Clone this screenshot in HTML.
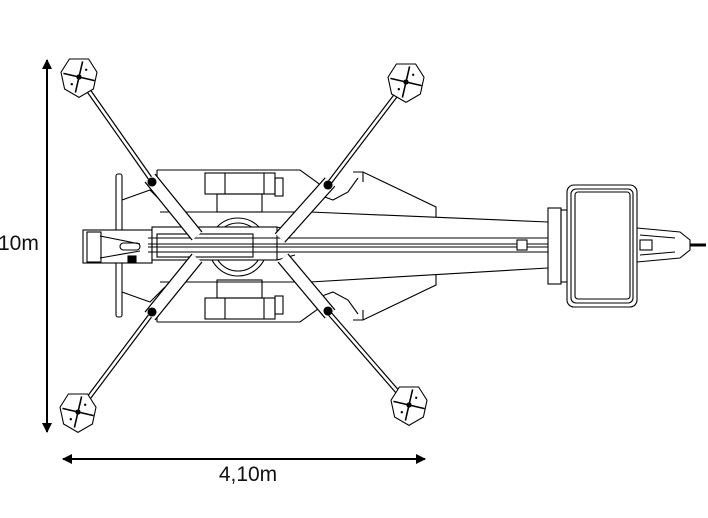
<!DOCTYPE html>
<html><head><meta charset="utf-8"><style>
html,body{margin:0;padding:0;background:#fff;width:708px;height:518px;overflow:hidden}
svg{display:block}
text{font-family:"Liberation Sans",Arial,sans-serif;fill:#111}
</style></head><body>
<svg width="708" height="518" viewBox="0 0 708 518" xmlns="http://www.w3.org/2000/svg">
<defs>
<marker id="ah" markerWidth="10" markerHeight="10" refX="9" refY="5" orient="auto" markerUnits="userSpaceOnUse">
<path d="M0,0 L10,5 L0,10 z" fill="#000"/></marker>
<g id="pad">
<polygon points="-8,-15 8,-15 15,-4 12,10 0,17 -12,10 -15,-4" fill="#fff" stroke="#000" stroke-width="0.9"/>
<line x1="-13" y1="-3" x2="13" y2="3" stroke="#000" stroke-width="1.3"/>
<line x1="3" y1="-13" x2="-3" y2="13" stroke="#000" stroke-width="1.3"/>
<circle cx="0" cy="0" r="2.2" fill="#000"/>
<circle cx="6" cy="-6" r="1" fill="#000"/><circle cx="-6" cy="6" r="1" fill="#000"/>
</g>
</defs>

<line x1="47" y1="420" x2="47" y2="60" stroke="#000" stroke-width="2" marker-end="url(#ah)"/>
<line x1="47" y1="70" x2="47" y2="432" stroke="#000" stroke-width="2" marker-end="url(#ah)"/>
<line x1="75" y1="459" x2="425" y2="459" stroke="#000" stroke-width="2" marker-end="url(#ah)"/>
<line x1="415" y1="459" x2="63" y2="459" stroke="#000" stroke-width="2" marker-end="url(#ah)"/>
<text x="248" y="481" font-size="21" text-anchor="middle">4,10m</text>
<text x="-2" y="250" font-size="21">10m</text>

<g fill="none" stroke="#000" stroke-width="1.1">
<rect x="116" y="174" width="6" height="143" rx="2" fill="#fff"/>
<path d="M157,170 L300,170 L318,183 L325,190"/>
<path d="M157,322 L300,322 L318,309 L325,302"/>
<path d="M157,170 L157,176 M157,322 L157,316"/>
<path d="M122,200 L150,190 L165,205 M122,292 L150,302 L165,287"/>
<path d="M160,212 L310,212 L548,222 M160,282 L310,282 L548,268"/>
<path d="M353,172 L363,172 L436,207 L436,217 M353,320 L363,320 L436,285 L436,275"/>
<path d="M363,172 L363,182 M363,320 L363,310"/>
<path d="M322,196 L333,200 L348,192 L358,178 M322,296 L333,292 L348,300 L358,314"/>
<rect x="205" y="173" width="70" height="21" fill="#fff"/>
<line x1="225" y1="173" x2="225" y2="194"/><line x1="264" y1="173" x2="264" y2="194"/>
<rect x="217" y="194" width="45" height="18"/>
<rect x="275" y="178" width="8" height="18"/>
<rect x="205" y="298" width="70" height="21" fill="#fff"/>
<line x1="225" y1="298" x2="225" y2="319"/><line x1="264" y1="298" x2="264" y2="319"/>
<rect x="217" y="280" width="45" height="18"/>
<rect x="275" y="296" width="8" height="18"/>
<circle cx="238" cy="247" r="29"/>
<circle cx="238" cy="247" r="24"/>
<rect x="83" y="230" width="69" height="33" fill="#fff"/>
<rect x="87" y="232" width="14" height="30"/>
<path d="M100,236 L140,244 M100,258 L140,251"/>
<rect x="120" y="243" width="20" height="7" rx="3.5"/>
<rect x="128" y="256" width="8" height="6" fill="#000"/>
<rect x="152" y="227" width="125" height="33" fill="#fff"/>
<rect x="157" y="234" width="96" height="23"/>
<path d="M148,238 L548,238 M148,252 L548,252 M148,244 L548,244 M148,247 L548,247"/>
<path d="M277,227 L295,232 M277,260 L295,255"/>
<rect x="517" y="240" width="10" height="10" fill="#fff"/>
<g stroke-linecap="butt">
<path d="M79,77 L150,178" stroke-width="5"/><path d="M79,77 L150,178" stroke="#fff" stroke-width="2.6"/>
<path d="M150,178 L197,236" stroke-width="14"/><path d="M150,178 L197,236" stroke="#fff" stroke-width="11.5"/>
<path d="M406,82 L330,182" stroke-width="5"/><path d="M406,82 L330,182" stroke="#fff" stroke-width="2.6"/>
<path d="M330,182 L280,238" stroke-width="14"/><path d="M330,182 L280,238" stroke="#fff" stroke-width="11.5"/>
<path d="M78,412 L150,316" stroke-width="5"/><path d="M78,412 L150,316" stroke="#fff" stroke-width="2.6"/>
<path d="M150,316 L197,258" stroke-width="14"/><path d="M150,316 L197,258" stroke="#fff" stroke-width="11.5"/>
<path d="M409,405 L330,314" stroke-width="5"/><path d="M409,405 L330,314" stroke="#fff" stroke-width="2.6"/>
<path d="M330,314 L283,258" stroke-width="14"/><path d="M330,314 L283,258" stroke="#fff" stroke-width="11.5"/>
</g>
<circle cx="152" cy="182" r="4" fill="#000"/><circle cx="328" cy="185" r="4" fill="#000"/>
<circle cx="152" cy="312" r="4" fill="#000"/><circle cx="328" cy="311" r="4" fill="#000"/>
<rect x="548" y="208" width="13" height="76" fill="#fff"/>
<rect x="561" y="210" width="20" height="72"/>
<rect x="567" y="185" width="70" height="122" rx="7" fill="#fff"/>
<rect x="571" y="189" width="62" height="114" rx="5"/>
<rect x="575" y="192" width="55" height="107" rx="3"/>
<path d="M637,228 L680,232 L690,240 L690,250 L680,258 L637,262"/>
<path d="M640,235 L675,238 M640,255 L675,252"/>
<rect x="640" y="240" width="12" height="10"/>
<path d="M690,245 L706,245" stroke-width="3"/>
</g>

<use href="#pad" transform="translate(79,77) scale(1.2)"/>
<use href="#pad" transform="translate(406,82) scale(1.2)"/>
<use href="#pad" transform="translate(78,412) scale(1.2)"/>
<use href="#pad" transform="translate(409,405) scale(1.2)"/>
</svg>
</body></html>
